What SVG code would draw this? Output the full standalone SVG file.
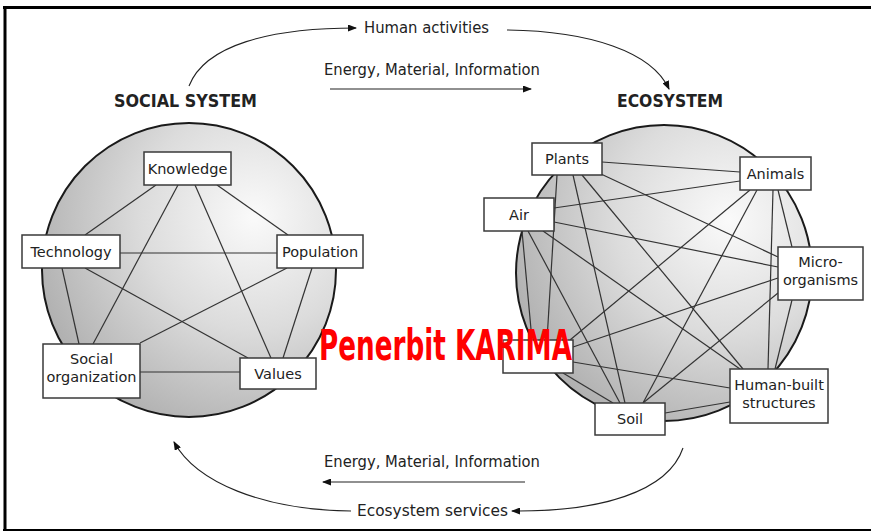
<svg xmlns="http://www.w3.org/2000/svg" width="871" height="531" viewBox="0 0 871 531">
<defs>
<radialGradient id="sph" cx="0.72" cy="0.32" r="0.85">
<stop offset="0" stop-color="#fafafa"/>
<stop offset="0.45" stop-color="#dcdcdc"/>
<stop offset="1" stop-color="#a8a8a8"/>
</radialGradient>
<marker id="ah" markerWidth="9" markerHeight="7" refX="8" refY="3.5" orient="auto" markerUnits="userSpaceOnUse">
<path d="M0,0 L9,3.5 L0,7 Z" fill="#111"/>
</marker>
<style>
.frame{stroke:#000;fill:none}
.sphere{fill:url(#sph);stroke:#1a1a1a;stroke-width:2}
.box{fill:#fff;stroke:#3a3a3a;stroke-width:1.5}
.lbl{font-family:"DejaVu Sans",sans-serif;font-size:14.5px;fill:#222;text-anchor:middle}
.title{font-family:"DejaVu Sans Condensed","DejaVu Sans",sans-serif;font-size:18px;font-weight:bold;fill:#222}
.flow{font-family:"DejaVu Sans Condensed","DejaVu Sans",sans-serif;font-size:15px;fill:#222}
.edge{stroke:#333;stroke-width:1.2;fill:none}
.arr{stroke:#222;stroke-width:1.1;fill:none;marker-end:url(#ah)}
.wm{font-family:"DejaVu Sans Condensed","DejaVu Sans",sans-serif;font-size:42px;font-weight:bold;fill:#ff0000}
</style>
</defs>
<rect width="871" height="531" fill="#fff"/>
<g id="frame">
<line class="frame" x1="3" y1="7.5" x2="871" y2="7.5" stroke-width="3"/>
<line class="frame" x1="5" y1="6" x2="5" y2="531" stroke-width="3"/>
<line class="frame" x1="3" y1="530" x2="871" y2="530" stroke-width="2"/>
</g>
<g id="spheres">
<circle class="sphere" cx="189" cy="270" r="147"/>
<circle class="sphere" cx="664" cy="273" r="148"/>
</g>
<g id="titles">
<text class="title" x="114" y="107" textLength="143" lengthAdjust="spacingAndGlyphs">SOCIAL SYSTEM</text>
<text class="title" x="617" y="107" textLength="106" lengthAdjust="spacingAndGlyphs">ECOSYSTEM</text>
</g>
<g id="connectors">
<path class="arr" d="M189,86 C205,45 270,28 356,28"/>
<path class="arr" d="M507,30 C590,31 652,52 669,89"/>
<line class="arr" x1="330" y1="89" x2="531" y2="89"/>
<line class="arr" x1="525" y1="482" x2="323" y2="482"/>
<path class="arr" d="M683,448 C668,492 600,512 512,511"/>
<path class="arr" d="M351,511 C262,510 196,482 174,442"/>
<g id="social-links">
<line class="edge" x1="156" y1="185" x2="85" y2="235"/>
<line class="edge" x1="178" y1="185" x2="93" y2="344"/>
<line class="edge" x1="195" y1="185" x2="271" y2="358"/>
<line class="edge" x1="217" y1="185" x2="288" y2="235"/>
<line class="edge" x1="120" y1="253" x2="277" y2="253"/>
<line class="edge" x1="85" y1="268" x2="248" y2="358"/>
<line class="edge" x1="62" y1="268" x2="79" y2="344"/>
<line class="edge" x1="287" y1="268" x2="140" y2="343"/>
<line class="edge" x1="312" y1="268" x2="283" y2="358"/>
<line class="edge" x1="140" y1="372" x2="240" y2="372"/>
</g>
<g id="eco-links">
<line class="edge" x1="602" y1="162" x2="740" y2="172"/>
<line class="edge" x1="601" y1="174" x2="778" y2="257"/>
<line class="edge" x1="582" y1="175" x2="743" y2="369"/>
<line class="edge" x1="573" y1="175" x2="625" y2="403"/>
<line class="edge" x1="557" y1="175" x2="547" y2="340"/>
<line class="edge" x1="740" y1="181" x2="554" y2="208"/>
<line class="edge" x1="750" y1="190" x2="570" y2="340"/>
<line class="edge" x1="757" y1="190" x2="643" y2="403"/>
<line class="edge" x1="773" y1="190" x2="768" y2="369"/>
<line class="edge" x1="778" y1="190" x2="792" y2="247"/>
<line class="edge" x1="554" y1="222" x2="778" y2="267"/>
<line class="edge" x1="543" y1="231" x2="740" y2="369"/>
<line class="edge" x1="528" y1="231" x2="620" y2="403"/>
<line class="edge" x1="522" y1="231" x2="532" y2="340"/>
<line class="edge" x1="573" y1="347" x2="778" y2="278"/>
<line class="edge" x1="573" y1="362" x2="730" y2="388"/>
<line class="edge" x1="563" y1="373" x2="613" y2="403"/>
<line class="edge" x1="778" y1="293" x2="643" y2="403"/>
<line class="edge" x1="792" y1="300" x2="775" y2="369"/>
<line class="edge" x1="665" y1="413" x2="730" y2="402"/>
</g>
</g>
<g id="flow-labels">
<text class="flow" x="364" y="33" textLength="125" lengthAdjust="spacingAndGlyphs">Human activities</text>
<text class="flow" x="324" y="75" textLength="216" lengthAdjust="spacingAndGlyphs">Energy, Material, Information</text>
<text class="flow" x="324" y="467" textLength="216" lengthAdjust="spacingAndGlyphs">Energy, Material, Information</text>
<text class="flow" x="357" y="516" textLength="151" lengthAdjust="spacingAndGlyphs">Ecosystem services</text>
</g>
<g id="knowledge"><rect class="box" x="144" y="152" width="87" height="33"/><text class="lbl" x="187.5" y="173.5">Knowledge</text></g>
<g id="technology"><rect class="box" x="22" y="235" width="98" height="33"/><text class="lbl" x="71" y="256.5">Technology</text></g>
<g id="population"><rect class="box" x="277" y="235" width="86" height="33"/><text class="lbl" x="320" y="256.5">Population</text></g>
<g id="social-organization"><rect class="box" x="43" y="344" width="97" height="54"/><text class="lbl" x="91.5" y="364">Social</text><text class="lbl" x="91.5" y="382">organization</text></g>
<g id="values"><rect class="box" x="240" y="358" width="76" height="31"/><text class="lbl" x="278" y="378.5">Values</text></g>
<g id="plants"><rect class="box" x="532" y="143" width="70" height="32"/><text class="lbl" x="567" y="164">Plants</text></g>
<g id="animals"><rect class="box" x="740" y="157" width="71" height="33"/><text class="lbl" x="775.5" y="178.5">Animals</text></g>
<g id="air"><rect class="box" x="484" y="198" width="70" height="33"/><text class="lbl" x="519" y="219.5">Air</text></g>
<g id="micro-organisms"><rect class="box" x="778" y="247" width="85" height="53"/><text class="lbl" x="820.5" y="267">Micro-</text><text class="lbl" x="820.5" y="285">organisms</text></g>
<g id="water"><rect class="box" x="503" y="340" width="70" height="33"/></g>
<g id="human-built-structures"><rect class="box" x="730" y="369" width="98" height="54"/><text class="lbl" x="779" y="390">Human-built</text><text class="lbl" x="779" y="408">structures</text></g>
<g id="soil"><rect class="box" x="595" y="403" width="70" height="32"/><text class="lbl" x="630" y="424">Soil</text></g>
<g id="watermark"><text class="wm" x="319" y="360" textLength="253" lengthAdjust="spacingAndGlyphs">Penerbit KARIMA</text></g>
</svg>
